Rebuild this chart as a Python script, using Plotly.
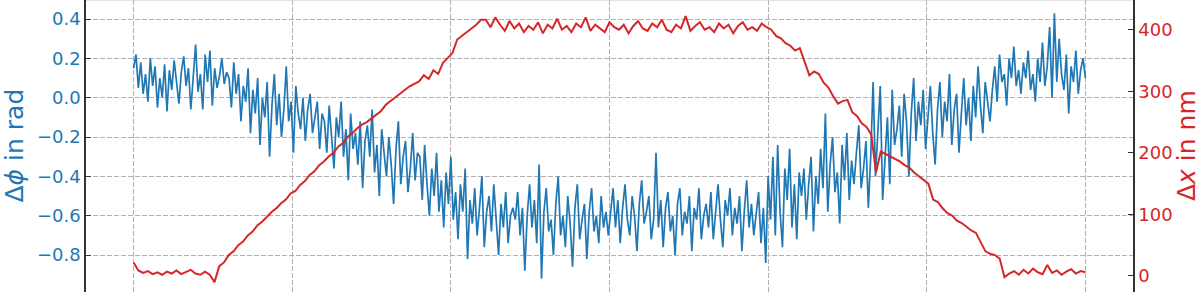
import numpy as np
import plotly.graph_objects as go

# Phase difference (rad), evenly sampled
phi_seg1 = [0.15, 0.22, 0.05, 0.18, 0.02, 0.12, -0.02, 0.20, 0.06, 0.16, -0.05, 0.10, 0.00, 0.17, -0.07, 0.14, 0.04, 0.19, 0.08, -0.03,
            0.13, 0.21, 0.06, 0.15, -0.06, 0.09, 0.27, 0.03, 0.12, -0.06, 0.22, 0.08, 0.24, -0.04, 0.15, 0.05, 0.11, 0.20, 0.07, 0.13]
phi_seg2 = [0.10, -0.05, 0.18, 0.02, 0.12, -0.12, 0.06, -0.02, 0.15, -0.18, 0.04, -0.08, 0.10, -0.24, 0.00, -0.10, 0.08, -0.30, -0.04, 0.12,
            -0.14, 0.02, -0.20, -0.06, 0.16, -0.12, -0.02, -0.28, 0.06, -0.08, -0.16, 0.00, -0.22, -0.06, 0.02, -0.18, -0.10, -0.02, -0.26, -0.08]
phi_seg3 = [-0.12, -0.28, -0.04, -0.22, -0.36, -0.10, -0.20, -0.02, -0.30, -0.16, -0.42, -0.08, -0.26, -0.18, -0.34, -0.12, -0.46, -0.22, -0.14, -0.30,
            -0.06, -0.38, -0.24, -0.50, -0.16, -0.28, -0.40, -0.20, -0.34, -0.54, -0.26, -0.12, -0.44, -0.30, -0.22, -0.48, -0.36, -0.18, -0.42, -0.28]
phi_seg4 = [-0.30, -0.52, -0.24, -0.44, -0.60, -0.36, -0.50, -0.28, -0.58, -0.42, -0.66, -0.38, -0.54, -0.30, -0.62, -0.48, -0.72, -0.44, -0.58, -0.36,
            -0.82, -0.52, -0.64, -0.46, -0.70, -0.56, -0.40, -0.76, -0.58, -0.50, -0.68, -0.44, -0.62, -0.80, -0.54, -0.66, -0.48, -0.74, -0.60, -0.56]
phi_seg5 = [-0.62, -0.48, -0.70, -0.56, -0.88, -0.60, -0.44, -0.66, -0.52, -0.74, -0.34, -0.92, -0.58, -0.46, -0.68, -0.62, -0.80, -0.54, -0.40, -0.70,
            -0.60, -0.76, -0.50, -0.64, -0.86, -0.56, -0.44, -0.72, -0.62, -0.54, -0.82, -0.58, -0.46, -0.68, -0.60, -0.74, -0.50, -0.66, -0.58, -0.70]
phi_seg6 = [-0.58, -0.46, -0.66, -0.52, -0.74, -0.56, -0.44, -0.62, -0.70, -0.50, -0.60, -0.78, -0.54, -0.42, -0.64, -0.58, -0.50, -0.72, -0.62, -0.28,
            -0.66, -0.52, -0.76, -0.56, -0.48, -0.68, -0.60, -0.80, -0.54, -0.46, -0.70, -0.58, -0.64, -0.50, -0.78, -0.56, -0.62, -0.46, -0.72, -0.60]
phi_seg7 = [-0.54, -0.66, -0.48, -0.72, -0.58, -0.44, -0.62, -0.76, -0.52, -0.60, -0.46, -0.70, -0.56, -0.64, -0.50, -0.78, -0.58, -0.42, -0.66, -0.54,
            -0.70, -0.60, -0.48, -0.74, -0.56, -0.84, -0.40, -0.62, -0.30, -0.70, -0.24, -0.58, -0.76, -0.36, -0.52, -0.26, -0.66, -0.44, -0.72, -0.38]
phi_seg8 = [-0.50, -0.36, -0.62, -0.44, -0.30, -0.68, -0.40, -0.54, -0.26, -0.46, -0.08, -0.58, -0.34, -0.20, -0.48, -0.38, -0.64, -0.24, -0.42, -0.18,
            -0.52, -0.32, -0.44, -0.28, -0.14, -0.46, -0.36, -0.22, -0.56, -0.30, 0.08, -0.40, -0.20, 0.06, -0.52, -0.28, -0.10, -0.44, 0.04, -0.24]
phi_seg9 = [-0.16, -0.04, -0.30, 0.02, -0.12, -0.40, -0.08, 0.10, -0.22, -0.02, -0.14, 0.04, -0.26, -0.10, 0.06, -0.18, -0.34, -0.06, 0.08, -0.20,
            -0.02, -0.12, 0.12, -0.24, -0.06, 0.02, -0.28, -0.08, 0.10, -0.14, 0.00, -0.22, 0.06, -0.10, 0.16, -0.04, -0.18, 0.08, -0.02, -0.12]
phi_seg10 = [0.04, 0.16, -0.02, 0.22, 0.08, 0.12, -0.04, 0.20, 0.10, 0.26, 0.06, 0.14, 0.02, 0.18, 0.10, 0.24, 0.04, 0.12, -0.02, 0.20,
             0.08, 0.28, 0.06, 0.16, 0.36, 0.00, 0.43, 0.08, 0.30, 0.12, 0.04, 0.22, -0.08, 0.16, 0.08, 0.24, 0.02, 0.14, 0.20, 0.10]

# Displacement (nm), evenly sampled
dx_start = [22, 9, 5, 8, 3, 6, 2, 7, 4, 9, 3, 6, 10, 4, 2, 7]
dx_rise = [2, -10, 16, 22, 34, 40, 50, 56, 66, 72, 82, 88, 96, 104, 110, 118, 124, 134, 138, 148,
           154, 164, 170, 180, 186, 194, 200, 210, 216, 226, 232, 240, 246, 250, 256, 262, 268, 278, 284, 290,
           296, 302, 308, 312, 316, 326, 320, 334, 328, 346, 354, 362, 384, 390, 396, 402, 408, 416]
dx_plateau = [416, 404, 420, 408, 398, 414, 402, 410, 396, 406, 400, 412, 394, 408, 402, 418, 400, 406, 396, 410,
              404, 420, 398, 408, 402, 396, 412, 404, 400, 408, 394, 406, 414, 402, 398, 410, 404, 416, 400, 396,
              408, 402, 422, 398, 406, 412, 400, 404, 396, 410, 402, 408, 394, 406, 412, 400, 404, 398, 410, 404]
dx_fall = [400, 390, 386, 378, 374, 366, 370, 348, 326, 332, 328, 314, 306, 292, 280, 284, 286, 266, 260, 248,
           242, 230, 168, 202, 198, 194, 190, 186, 180, 176, 168, 162, 156, 150, 124, 120, 110, 102, 98, 90,
           86, 80, 74, 70, 56, 40, 36, 34, 28]
dx_end = [-2, 4, 8, 2, 10, 4, 12, 6, 3, 18, 5, 9, 2, 7, 11, 4, 8, 6]

t_start, t_end = 0.0, 6.0
x_ticks = [0, 1, 2, 3, 4, 5, 6]
phi_ticks = [-0.8, -0.6, -0.4, -0.2, 0.0, 0.2, 0.4]
dx_ticks = [0, 100, 200, 300, 400]

phi = (phi_seg1 + phi_seg2 + phi_seg3 + phi_seg4 + phi_seg5 +
       phi_seg6 + phi_seg7 + phi_seg8 + phi_seg9 + phi_seg10)
dxs = dx_start + dx_rise + dx_plateau + dx_fall + dx_end
t_phi = np.linspace(t_start, t_end, len(phi))
t_dx = np.linspace(t_start, t_end, len(dxs))

BLUE = "#1f77b4"
RED = "#d62728"
FONT = "DejaVu Sans"

fig = go.Figure()
fig.add_trace(go.Scatter(x=t_phi, y=phi, mode="lines", line=dict(color=BLUE, width=1.7),
                         showlegend=False, yaxis="y"))
fig.add_trace(go.Scatter(x=t_dx, y=dxs, mode="lines", line=dict(color=RED, width=2.0),
                         showlegend=False, yaxis="y2"))

W, H = 1200, 292
L, R = 86, 1133
pw = R - L

fig.update_layout(
    width=W, height=H,
    margin=dict(l=L, r=W - R, t=0, b=0, pad=0),
    paper_bgcolor="white", plot_bgcolor="white",
    font=dict(family=FONT, size=18),
    xaxis=dict(range=[-0.3, 6.3], tickvals=x_ticks, showticklabels=False, automargin=False,
               showgrid=True, gridcolor="#b0b0b0", gridwidth=1, griddash="5px,2px",
               zeroline=False, showline=False, ticks=""),
    yaxis=dict(range=[-0.988, 0.497], tickvals=phi_ticks, tickformat=".1f", automargin=False,
               tickfont=dict(color=BLUE, size=18, family=FONT),
               ticks="inside", ticklen=5, tickwidth=1.3, tickcolor="#333",
               showgrid=True, gridcolor="#b0b0b0", gridwidth=1, griddash="5px,2px",
               zeroline=False, showline=True, linecolor="#333", linewidth=1.5),
    yaxis2=dict(range=[-26, 448.2], tickvals=dx_ticks, overlaying="y", side="right", automargin=False,
                tickfont=dict(color=RED, size=18, family=FONT),
                ticks="inside", ticklen=5, tickwidth=1.3, tickcolor="#333",
                showgrid=False, zeroline=False, showline=True, linecolor="#333", linewidth=1.5),
    shapes=[dict(type="line", xref="paper", yref="paper", x0=0, x1=1, y0=1, y1=1,
                 line=dict(color="#cccccc", width=1))],
    annotations=[
        dict(text="Δ<i>ϕ</i> in rad", xref="paper", yref="paper", x=(13.5 - L) / pw, y=0.5,
             xanchor="center", yanchor="middle", textangle=-90, showarrow=False,
             font=dict(color=BLUE, size=25, family=FONT)),
        dict(text="Δ<i>x</i> in nm", xref="paper", yref="paper", x=(1186 - L) / pw, y=0.5,
             xanchor="center", yanchor="middle", textangle=-90, showarrow=False,
             font=dict(color=RED, size=25, family=FONT)),
    ],
)

fig.write_html("out.html", config={"displayModeBar": False},
               post_script="document.body.style.margin='0';document.body.style.overflow='hidden';")
